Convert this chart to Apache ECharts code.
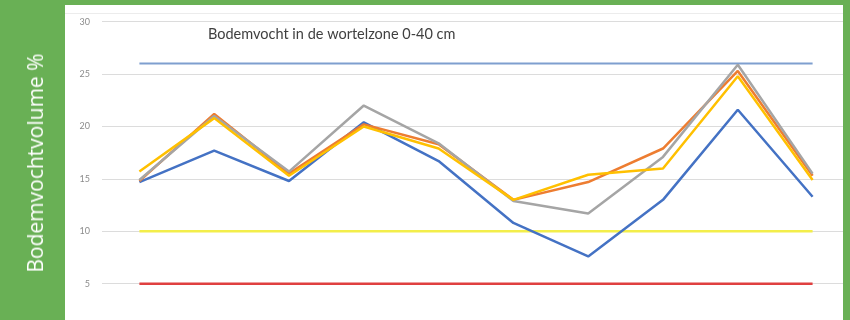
<!DOCTYPE html>
<html>
<head>
<meta charset="utf-8">
<script src="https://cdn.jsdelivr.net/npm/echarts@6/dist/echarts.min.js"></script>
<style>
  html, body { margin: 0; padding: 0; width: 850px; height: 320px; overflow: hidden; background: #69b055; }
  #panel { position: absolute; left: 65px; top: 5px; width: 778px; height: 315px; background: #ffffff; }
  #panelEdge { position: absolute; left: 65px; top: 13px; width: 778px; height: 1px; background: #ececec; }
  #chart { position: absolute; left: 0; top: 0; width: 850px; height: 380px; }
  #rightStrip { position: absolute; left: 843px; top: 0; width: 7px; height: 320px; background: #69b055; }
  #ylabel {
    position: absolute; left: 35px; top: 163px;
    transform: translate(-50%, -50%) rotate(-90deg);
    white-space: nowrap; color: #ffffff;
    font-family: "Open Sans", sans-serif; font-size: 21px; font-weight: normal;
  }
</style>
</head>
<body>
<div id="panel"></div>
<div id="panelEdge"></div>
<div id="chart"></div>
<div id="rightStrip"></div>
<div id="ylabel">Bodemvochtvolume %</div>
<script>
// Meetmomenten (x-as)
const categories = ['1', '2', '3', '4', '5', '6', '7', '8', '9', '10'];

// Gemeten bodemvocht per meetpunt (volume %)
const meetpuntBlauw  = [14.7, 17.7, 14.8, 20.4, 16.7, 10.8, 7.6, 13.0, 21.6, 13.3];
const meetpuntOranje = [14.8, 21.2, 15.5, 20.2, 18.3, 13.0, 14.7, 17.9, 25.3, 15.3];
const meetpuntGrijs  = [14.9, 21.0, 15.7, 22.0, 18.4, 12.9, 11.7, 17.1, 25.9, 15.5];
const meetpuntGeel   = [15.7, 20.8, 15.3, 20.0, 17.9, 13.0, 15.4, 16.0, 24.8, 14.9];

// Referentieniveaus (volume %)
const niveauBoven = 26;
const niveauMidden = 10;
const niveauOnder = 5;

// As-instellingen
const yMin = 0, yMax = 30, yStep = 5;

const title = 'Bodemvocht in de wortelzone 0-40 cm';

const flat = v => categories.map(() => v);

function line(name, data, color, width) {
  return {
    name, type: 'line', data, symbol: 'none', smooth: false,
    lineStyle: { color, width }, itemStyle: { color },
    emphasis: { disabled: true }, silent: true
  };
}

const chart = echarts.init(document.getElementById('chart'), null, { renderer: 'canvas' });
chart.setOption({
  animation: false,
  backgroundColor: 'transparent',
  title: {
    text: title, left: 203, top: 22,
    textStyle: { fontFamily: 'Lato, sans-serif', fontSize: 14.5, fontWeight: 'normal', color: '#404040' }
  },
  grid: { left: 102, top: 21.7, width: 753, height: 314.4, containLabel: false },
  xAxis: {
    type: 'category', data: categories, boundaryGap: true, show: false
  },
  yAxis: {
    type: 'value', min: yMin, max: yMax, interval: yStep,
    axisLine: { show: false }, axisTick: { show: false },
    axisLabel: { color: '#8c8c8c', fontSize: 9, margin: 12, fontFamily: 'Lato, sans-serif' },
    splitLine: { lineStyle: { color: '#dcdcdc', width: 1 } }
  },
  series: [
    line('boven', flat(niveauBoven), '#7f9fcf', 2),
    line('midden', flat(niveauMidden), '#f3ee4a', 2.5),
    line('onder', flat(niveauOnder), '#e04040', 2.5),
    line('blauw', meetpuntBlauw, '#4472c4', 2.5),
    line('oranje', meetpuntOranje, '#ed7d31', 2.5),
    line('grijs', meetpuntGrijs, '#a5a5a5', 2.5),
    line('geel', meetpuntGeel, '#ffc000', 2.5)
  ]
});
</script>
</body>
</html>
